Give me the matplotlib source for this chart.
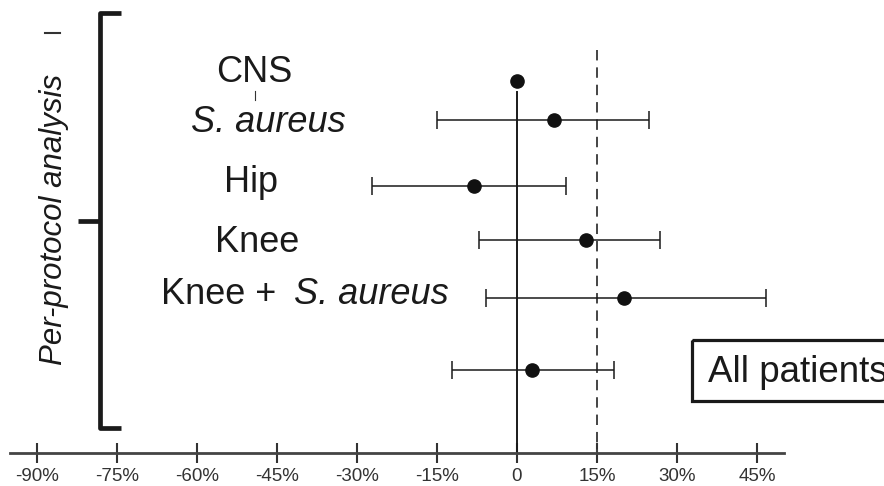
import numpy as np
import matplotlib
matplotlib.use("Agg")
import matplotlib.pyplot as plt
from matplotlib.patches import Rectangle

plt.rcParams['font.family'] = ['Liberation Sans', 'DejaVu Sans']
plt.rcParams['lines.scale_dashes'] = False

# DATA (risk difference, %)
groups = ["CNS", "S. aureus", "Hip", "Knee", "Knee + S. aureus", "All patients"]
estimate = [0.0, 7.0, -8.0, 13.0, 20.0, 2.8]
ci_low = [np.nan, -15.0, -27.2, -7.1, -5.9, -12.1]
ci_high = [np.nan, 24.8, 9.1, 26.9, 46.6, 18.1]
margin = 15
tick_vals = [-90, -75, -60, -45, -30, -15, 0, 15, 30, 45]
tick_labels = ["-90%", "-75%", "-60%", "-45%", "-30%", "-15%", "0", "15%", "30%", "45%"]

# layout (pixel rows, figure is 884x486)
row_y = [80.7, 120, 186, 240, 298.3, 370]
axis_y = 453

fig = plt.figure(figsize=(8.84, 4.86), dpi=100)
ax = fig.add_axes([0, 0, 1, 1])
px = 517 / 5.333
ax.set_xlim(-px, (884 - 517) / 5.333)
ax.set_ylim(486, 0)
ax.patch.set_alpha(0)

# reference lines
ax.plot([0, 0], [92, axis_y], color='#1a1a1a', lw=1.4, zorder=2)
dl, = ax.plot([margin, margin], [50, axis_y], color='#444444', lw=1.4, zorder=2)
dl.set_dashes([7.5, 5])

# estimates with CI
est = np.array(estimate)
lo = np.array(ci_low)
hi = np.array(ci_high)
ys = np.array(row_y)
has_ci = ~np.isnan(lo)
ax.errorbar(est[has_ci], ys[has_ci],
            xerr=[est[has_ci] - lo[has_ci], hi[has_ci] - est[has_ci]],
            fmt='none', ecolor='#1a1a1a', elinewidth=1.1, capsize=6.5,
            capthick=1.1, zorder=3)
ax.plot(est, ys, 'o', color='#111111', ms=9.5, zorder=4)

# x axis
for s in ['top', 'left', 'right']:
    ax.spines[s].set_visible(False)
ax.spines['bottom'].set_position(('data', axis_y))
ax.spines['bottom'].set_bounds(-95, 50)
ax.spines['bottom'].set_color('#444444')
ax.spines['bottom'].set_linewidth(2.0)
ax.set_yticks([])
ax.set_xticks(tick_vals)
ax.set_xticklabels(tick_labels)
ax.tick_params(axis='x', direction='inout', length=14, width=1.5,
               color='#333333', labelsize=13.5, labelcolor='#333333', pad=3.5)

# labels, bracket and box in pixel coordinates
ov = fig.add_axes([0, 0, 1, 1], zorder=5)
ov.set_xlim(0, 884)
ov.set_ylim(486, 0)
ov.axis('off')

fs = 26
ov.text(254, 82, "CNS", fontsize=fs, ha='center', va='baseline', color='#1a1a1a')
ov.text(268, 132, "S. aureus", fontsize=fs, style='italic', ha='center', va='baseline', color='#1a1a1a')
ov.text(251, 192, "Hip", fontsize=fs, ha='center', va='baseline', color='#1a1a1a')
ov.text(257, 252, "Knee", fontsize=fs, ha='center', va='baseline', color='#1a1a1a')
ov.text(161, 304, "Knee +", fontsize=fs, ha='left', va='baseline', color='#1a1a1a')
ov.text(449, 304, "S. aureus", fontsize=fs, style='italic', ha='right', va='baseline', color='#1a1a1a')

ov.add_patch(Rectangle((692, 340), 260, 61, fill=False, lw=2.3, ec='#1a1a1a'))
ov.text(708, 382, "All patients", fontsize=26.5, ha='left', va='baseline', color='#1a1a1a')

# bracket
bk = dict(color='#1a1a1a', lw=3.4, solid_joinstyle='round', solid_capstyle='butt')
ov.plot([121, 100, 100, 121], [13, 13, 428, 428], **bk)
ov.plot([78, 100], [221, 221], **bk)
ov.text(54, 219, "Per-protocol analysis", fontsize=22.5, style='italic',
        rotation=90, ha='center', va='center', color='#1a1a1a')

# small stray marks
ov.plot([255, 255], [91, 100], color='#333333', lw=0.8)
ov.plot([45, 60], [33, 33], color='#333333', lw=1.5)

fig.savefig("out.png", dpi=100, facecolor='white')
